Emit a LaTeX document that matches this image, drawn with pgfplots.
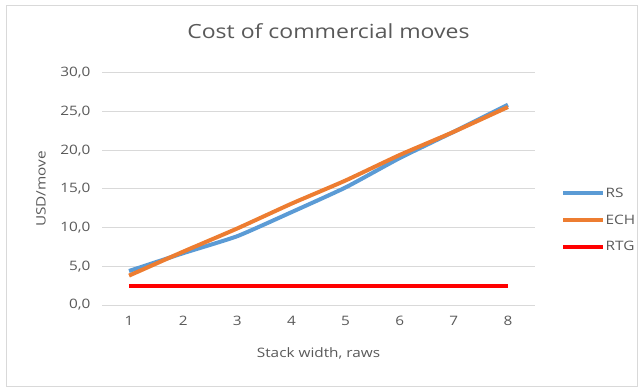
\documentclass[border=0pt]{standalone}
\usepackage{pgfplots}
\pgfplotsset{compat=1.18}
\usepackage{fontspec}
\setmainfont{Open Sans}[FakeStretch=1.18]
\definecolor{txt}{HTML}{595959}
\definecolor{gridc}{HTML}{D9D9D9}
\definecolor{rsblue}{HTML}{5B9BD5}
\definecolor{echorange}{HTML}{ED7D31}
\definecolor{rtgred}{HTML}{FF0000}
\definecolor{frame}{HTML}{D9D9D9}

\begin{document}
\begin{tikzpicture}[x=1pt,y=1pt]
  % page area and chart frame
  \path (0,0) rectangle (642,388);
  \draw[frame, line width=1pt] (6,1.5) rectangle (637,382);
  \begin{axis}[
    at={(102pt,83pt)}, anchor=south west,
    scale only axis, width=433pt, height=232pt,
    xmin=0.5, xmax=8.5, ymin=0, ymax=30,
    xtick={1,...,8}, ytick={0,5,...,30},
    axis line style={draw=none},
    tick style={draw=none},
    ymajorgrids, grid style={gridc, line width=1pt},
    /pgf/number format/assume math mode=true,
    yticklabel={\pgfmathprintnumber[fixed, fixed zerofill, precision=1, use comma]{\tick}},
    ticklabel style={font=\fontsize{13}{15}\selectfont, text=txt},
    yticklabel style={xshift=-8pt},
    xticklabel style={yshift=-8pt},
    title={Cost of commercial moves},
    title style={at={(axis description cs:0.523,1.155)}, anchor=center,
      font=\fontsize{19.5}{22}\selectfont, text=txt},
    xlabel={Stack width, raws},
    xlabel style={at={(axis description cs:0.5,-0.207)}, anchor=center,
      font=\fontsize{13}{15}\selectfont, text=txt},
    ylabel={USD/move},
    ylabel style={at={(axis description cs:-0.141,0.5)}, anchor=center,
      font=\fontsize{13}{15}\selectfont, text=txt},
    legend style={draw=none, fill=none, at={(axis description cs:1.06,0.366)},
      anchor=west, inner sep=0pt, row sep=15pt,
      font=\fontsize{13}{15}\selectfont, text=txt,
      nodes={inner sep=0.5pt}},
    legend cell align=left,
    legend image code/.code={\draw[#1] (0pt,0pt) -- (40pt,0pt);},
  ]
    \addplot[rsblue, line width=4pt, smooth, tension=0.3] coordinates {
      (1,4.4) (2,6.7) (3,8.9) (4,12.0) (5,15.2) (6,19.0) (7,22.4) (8,25.9)};
    \addlegendentry{RS}
    \addplot[echorange, line width=4pt, smooth, tension=0.3] coordinates {
      (1,3.8) (2,6.9) (3,9.9) (4,13.1) (5,16.1) (6,19.4) (7,22.4) (8,25.6)};
    \addlegendentry{ECH}
    \addplot[rtgred, line width=4pt] coordinates {
      (1,2.5) (2,2.5) (3,2.5) (4,2.5) (5,2.5) (6,2.5) (7,2.5) (8,2.5)};
    \addlegendentry{RTG}
  \end{axis}
\end{tikzpicture}
\end{document}
